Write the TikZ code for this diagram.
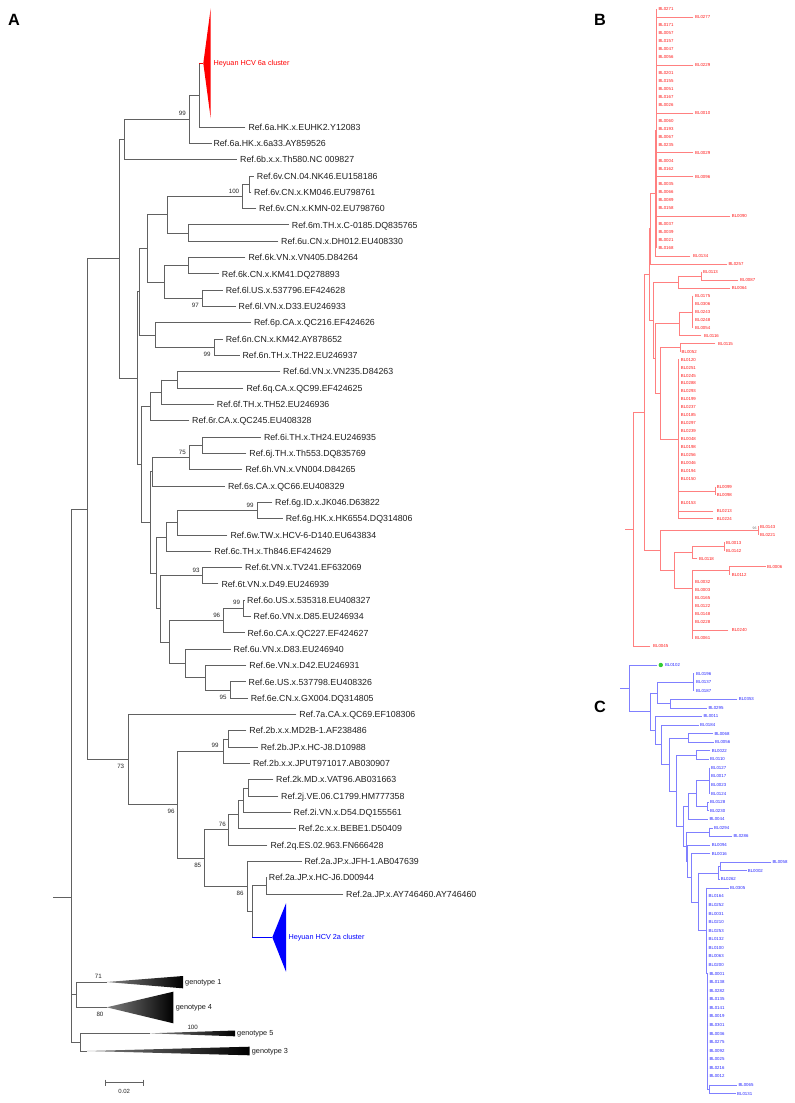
\documentclass[tikz,border=0pt]{standalone}
\usepackage{fontspec}
\setmainfont{Liberation Sans}
\newcommand\lf[8]{\draw[#1] (#3,#5) -- (#4,#5); \node[#2] (#7) at (#6,#5) {#8};}
\newcommand\nd[6]{\draw[#1] (#2,#6) -- (#3,#6) (#3,#4) -- (#3,#5);}
\begin{document}
\begin{tikzpicture}[x=1pt,y=-1pt,
 tA/.style={draw=black!62,line width=0.9pt,line cap=rect},
 tB/.style={draw=red!50,line width=0.55pt,line cap=rect},
 tC/.style={draw=blue!50,line width=0.55pt,line cap=rect},
 labA/.style={anchor=west,inner sep=0pt,font=\fontsize{8.8}{10}\selectfont,text height=6.3pt,text depth=0pt,text=black!88},
 labB/.style={anchor=west,inner sep=0pt,font=\fontsize{4.35}{5}\selectfont,text height=3.1pt,text depth=0pt,text=red!90},
 labC/.style={anchor=west,inner sep=0pt,font=\fontsize{4.35}{5}\selectfont,text height=3.1pt,text depth=0pt,text=blue!85},
 bs/.style={inner sep=0pt,font=\fontsize{6.2}{7}\selectfont,text height=4.45pt,text depth=0pt,text=black!85},
 gt/.style={anchor=west,inner sep=0pt,font=\fontsize{7.3}{8}\selectfont,text height=5.2pt,text depth=0pt,text=black!90},
 pl/.style={inner sep=0pt,font=\fontsize{16.3}{18}\selectfont\bfseries,text height=11.7pt,text depth=0pt}]
\useasboundingbox (0,0) rectangle (795,1103);
\fill[white] (0,0) rectangle (795,1103);
% ---------------- panel letters
\node[pl] (pA) at (14,19.2) {A};
\node[pl] (pB) at (600,19.2) {B};
\node[pl] (pC) at (600,707) {C};
% ---------------- panel A : internal nodes
\nd{tA}{189}{199}{63}{127}{95}
\nd{tA}{124}{189}{95}{143.3}{119.15}
\nd{tA}{119}{124}{119.15}{159.6}{139.4}
\nd{tA}{242}{249}{176}{192.3}{184.15}
\nd{tA}{167}{242}{184.15}{208.6}{196.4}
\nd{tA}{167}{188}{224.9}{241.2}{233.05}
\nd{tA}{147}{167}{196.4}{233.05}{214.7}
\nd{tA}{164}{188}{257.6}{273.9}{265.75}
\nd{tA}{164}{202}{290.2}{306.5}{298.35}
\nd{tA}{147}{164}{265.75}{298.35}{282.05}
\nd{tA}{139.5}{147}{214.7}{282.05}{248.4}
\nd{tA}{155}{214}{339.2}{355.5}{347.35}
\nd{tA}{139.5}{155}{322.8}{347.35}{335.1}
\nd{tA}{137}{139.5}{248.4}{335.1}{291.75}
\nd{tA}{161}{177}{371.8}{388.1}{379.95}
\nd{tA}{150.7}{161}{379.95}{404.4}{392.2}
\nd{tA}{141}{150.7}{392.2}{420.8}{406.5}
\nd{tA}{189}{202}{437.1}{453.4}{445.25}
\nd{tA}{152}{189}{445.25}{469.7}{457.5}
\nd{tA}{150}{152}{457.5}{486}{471.75}
\nd{tA}{177}{257.7}{502.4}{518.7}{510.55}
\nd{tA}{166.7}{177}{510.55}{535}{522.8}
\nd{tA}{156.7}{166.7}{522.8}{551.3}{537.05}
\nd{tA}{160}{202.7}{567.6}{583.9}{575.75}
\nd{tA}{223}{243}{600.3}{616.6}{608.45}
\nd{tA}{169.3}{223}{608.45}{632.9}{620.7}
\nd{tA}{205.7}{230}{681.9}{698.2}{690.05}
\nd{tA}{185}{205.7}{665.5}{690.05}{677.8}
\nd{tA}{169.3}{185}{649.2}{677.8}{663.5}
\nd{tA}{160}{169.3}{620.7}{663.5}{642.1}
\nd{tA}{156.7}{160}{575.75}{642.1}{608.9}
\nd{tA}{150}{156.7}{537.05}{608.9}{573}
\nd{tA}{141}{150}{471.75}{573}{522.4}
\nd{tA}{137}{141}{406.5}{522.4}{464.45}
\nd{tA}{119}{137}{291.75}{464.45}{378.1}
\nd{tA}{87}{119}{139.4}{378.1}{258.75}
\nd{tA}{223}{228}{730.8}{747.1}{738.95}
\nd{tA}{177.5}{223}{738.95}{763.4}{751.2}
\nd{tA}{243}{248}{779.8}{796.1}{787.95}
\nd{tA}{238.5}{243}{787.95}{812.4}{800.2}
\nd{tA}{228.7}{238.5}{800.2}{828.7}{814.45}
\nd{tA}{204}{228.7}{814.45}{845}{829.7}
\nd{tA}{252}{266}{877.7}{894}{885.85}
\nd{tA}{247}{252}{885.85}{937.3}{911.6}
\nd{tA}{204}{247}{861.4}{911.6}{886.5}
\nd{tA}{177.5}{204}{829.7}{886.5}{858.1}
\nd{tA}{128}{177.5}{751.2}{858.1}{804.65}
\nd{tA}{87}{128}{714.5}{804.65}{759.6}
\nd{tA}{71.6}{87}{258.75}{759.6}{509.2}
\nd{tA}{71.6}{76.7}{982}{1007.3}{994.65}
\nd{tA}{71}{71.6}{509.2}{994.65}{751.9}
\nd{tA}{71}{80.7}{1033.3}{1051}{1042.15}
\nd{tA}{53.3}{71}{751.9}{1042.15}{897}
% ---------------- panel A : leaves
\lf{tA}{labA}{199}{245}{127}{248.3}{a0}{Ref.6a.HK.x.EUHK2.Y12083}
\lf{tA}{labA}{189}{211.5}{143.3}{213.3}{a1}{Ref.6a.HK.x.6a33.AY859526}
\lf{tA}{labA}{124}{236.5}{159.6}{240}{a2}{Ref.6b.x.x.Th580.NC 009827}
\lf{tA}{labA}{249}{253.5}{176}{256.7}{a3}{Ref.6v.CN.04.NK46.EU158186}
\lf{tA}{labA}{249}{251}{192.3}{254}{a4}{Ref.6v.CN.x.KM046.EU798761}
\lf{tA}{labA}{242}{256}{208.6}{259}{a5}{Ref.6v.CN.x.KMN-02.EU798760}
\lf{tA}{labA}{188}{288.5}{224.9}{291.7}{a6}{Ref.6m.TH.x.C-0185.DQ835765}
\lf{tA}{labA}{188}{278}{241.2}{281}{a7}{Ref.6u.CN.x.DH012.EU408330}
\lf{tA}{labA}{188}{245}{257.6}{248.3}{a8}{Ref.6k.VN.x.VN405.D84264}
\lf{tA}{labA}{188}{218.5}{273.9}{221.7}{a9}{Ref.6k.CN.x.KM41.DQ278893}
\lf{tA}{labA}{202}{222.5}{290.2}{225.6}{a10}{Ref.6l.US.x.537796.EF424628}
\lf{tA}{labA}{202}{235.5}{306.5}{238.5}{a11}{Ref.6l.VN.x.D33.EU246933}
\lf{tA}{labA}{155}{250.5}{322.8}{253.8}{a12}{Ref.6p.CA.x.QC216.EF424626}
\lf{tA}{labA}{214}{222.5}{339.2}{225.6}{a13}{Ref.6n.CN.x.KM42.AY878652}
\lf{tA}{labA}{214}{239.5}{355.5}{242.4}{a14}{Ref.6n.TH.x.TH22.EU246937}
\lf{tA}{labA}{177}{280}{371.8}{283}{a15}{Ref.6d.VN.x.VN235.D84263}
\lf{tA}{labA}{177}{243}{388.1}{246.3}{a16}{Ref.6q.CA.x.QC99.EF424625}
\lf{tA}{labA}{161}{213.5}{404.4}{216.7}{a17}{Ref.6f.TH.x.TH52.EU246936}
\lf{tA}{labA}{150.7}{189}{420.8}{192}{a18}{Ref.6r.CA.x.QC245.EU408328}
\lf{tA}{labA}{202}{260.5}{437.1}{263.8}{a19}{Ref.6i.TH.x.TH24.EU246935}
\lf{tA}{labA}{202}{246}{453.4}{249.2}{a20}{Ref.6j.TH.x.Th553.DQ835769}
\lf{tA}{labA}{189}{242}{469.7}{245.3}{a21}{Ref.6h.VN.x.VN004.D84265}
\lf{tA}{labA}{152}{224.5}{486}{227.8}{a22}{Ref.6s.CA.x.QC66.EU408329}
\lf{tA}{labA}{257.7}{272}{502.4}{275}{a23}{Ref.6g.ID.x.JK046.D63822}
\lf{tA}{labA}{257.7}{282.5}{518.7}{285.6}{a24}{Ref.6g.HK.x.HK6554.DQ314806}
\lf{tA}{labA}{177}{227}{535}{230.3}{a25}{Ref.6w.TW.x.HCV-6-D140.EU643834}
\lf{tA}{labA}{166.7}{211}{551.3}{214.2}{a26}{Ref.6c.TH.x.Th846.EF424629}
\lf{tA}{labA}{202.7}{242}{567.6}{245}{a27}{Ref.6t.VN.x.TV241.EF632069}
\lf{tA}{labA}{202.7}{218}{583.9}{221.3}{a28}{Ref.6t.VN.x.D49.EU246939}
\lf{tA}{labA}{243}{244.5}{600.3}{247}{a29}{Ref.6o.US.x.535318.EU408327}
\lf{tA}{labA}{243}{250.5}{616.6}{253.5}{a30}{Ref.6o.VN.x.D85.EU246934}
\lf{tA}{labA}{223}{244.5}{632.9}{247.4}{a31}{Ref.6o.CA.x.QC227.EF424627}
\lf{tA}{labA}{185}{230.5}{649.2}{233.5}{a32}{Ref.6u.VN.x.D83.EU246940}
\lf{tA}{labA}{205.7}{246}{665.5}{249.2}{a33}{Ref.6e.VN.x.D42.EU246931}
\lf{tA}{labA}{230}{245.5}{681.9}{248.5}{a34}{Ref.6e.US.x.537798.EU408326}
\lf{tA}{labA}{230}{247.5}{698.2}{250.6}{a35}{Ref.6e.CN.x.GX004.DQ314805}
\lf{tA}{labA}{128}{296}{714.5}{299.2}{a36}{Ref.7a.CA.x.QC69.EF108306}
\lf{tA}{labA}{228}{246}{730.8}{249.2}{a37}{Ref.2b.x.x.MD2B-1.AF238486}
\lf{tA}{labA}{228}{257.5}{747.1}{260.6}{a38}{Ref.2b.JP.x.HC-J8.D10988}
\lf{tA}{labA}{223}{249.5}{763.4}{252.8}{a39}{Ref.2b.x.x.JPUT971017.AB030907}
\lf{tA}{labA}{248}{273}{779.8}{276}{a40}{Ref.2k.MD.x.VAT96.AB031663}
\lf{tA}{labA}{248}{278}{796.1}{281}{a41}{Ref.2j.VE.06.C1799.HM777358}
\lf{tA}{labA}{243}{290.5}{812.4}{293.5}{a42}{Ref.2i.VN.x.D54.DQ155561}
\lf{tA}{labA}{238.5}{295.5}{828.7}{298.5}{a43}{Ref.2c.x.x.BEBE1.D50409}
\lf{tA}{labA}{228.7}{267}{845}{270.3}{a44}{Ref.2q.ES.02.963.FN666428}
\lf{tA}{labA}{247}{301.5}{861.4}{304.3}{a45}{Ref.2a.JP.x.JFH-1.AB047639}
\lf{tA}{labA}{266}{267}{877.7}{268.7}{a46}{Ref.2a.JP.x.HC-J6.D00944}
\lf{tA}{labA}{266}{343}{894}{346}{a47}{Ref.2a.JP.x.AY746460.AY746460}
% ---------------- collapsed clusters
\draw[red,line width=0.9pt] (199,63) -- (203.3,63);
\fill[red] (210.7,8.3) -- (203.3,63.3) -- (210.7,118.3) -- cycle;
\node[anchor=west,inner sep=0pt,font=\fontsize{7.27}{8}\selectfont,text height=5.2pt,text depth=0pt,text=red] (h6a) at (213.3,63.3) {Heyuan HCV 6a cluster};
\draw[blue,line width=0.9pt] (252,937.3) -- (272.3,937.3);
\fill[blue] (286,903.3) -- (272.3,937.3) -- (286,971.7) -- cycle;
\node[anchor=west,inner sep=0pt,font=\fontsize{7.27}{8}\selectfont,text height=5.2pt,text depth=0pt,text=blue] (h2a) at (288.3,937.3) {Heyuan HCV 2a cluster};
\draw[tA] (76.7,982) -- (106.7,982);
\shade[left color=black!50,right color=black] (106.7,982) -- (183,976) -- (183,988.3) -- cycle;
\node[gt] (g1) at (185,982) {genotype 1};
\draw[tA] (76.7,1007.3) -- (106.7,1007.3);
\shade[left color=black!50,right color=black] (106.7,1007.3) -- (173.3,991.7) -- (173.3,1023.3) -- cycle;
\node[gt] (g4) at (175.7,1007.3) {genotype 4};
\draw[tA] (80.7,1033.3) -- (150,1033.3);
\shade[left color=black!50,right color=black] (150,1033.3) -- (235,1030.5) -- (235,1036.3) -- cycle;
\node[gt] (g5) at (237,1033.3) {genotype 5};
\draw[tA] (80.7,1051) -- (86.7,1051);
\shade[left color=black!50,right color=black] (86.7,1051) -- (249.7,1046.7) -- (249.7,1055.3) -- cycle;
\node[gt] (g3) at (251.7,1051) {genotype 3};
% ---------------- bootstrap values
\node[bs] (b1) at (182.3,113.3) {99};
\node[bs] (b2) at (234,191) {100};
\node[bs] (b3) at (195.3,305) {97};
\node[bs] (b4) at (207,354.3) {99};
\node[bs] (b5) at (182.4,452) {75};
\node[bs] (b6) at (250,505) {99};
\node[bs] (b7) at (196,570) {93};
\node[bs] (b8) at (236.5,602.7) {99};
\node[bs] (b9) at (216.7,615) {96};
\node[bs] (b10) at (223,697) {95};
\node[bs] (b11) at (120.7,766.7) {73};
\node[bs] (b12) at (215,745) {99};
\node[bs] (b13) at (171,811.7) {96};
\node[bs] (b14) at (222.4,824) {76};
\node[bs] (b15) at (197.7,865) {85};
\node[bs] (b16) at (240,893.3) {86};
\node[bs] (b17) at (98.3,976) {71};
\node[bs] (b18) at (100,1014.3) {80};
\node[bs] (b19) at (192.7,1027.7) {100};
% ---------------- scale bar
\draw[tA,line cap=butt] (105,1082.7) -- (143.3,1082.7) (105,1079.7) -- (105,1085.7) (143.3,1079.7) -- (143.3,1085.7);
\node[inner sep=0pt,font=\fontsize{6}{7}\selectfont,text height=4.3pt,text depth=0pt,text=black!85] (sb) at (124.2,1091) {0.02};
% ---------------- panel B (red)
\nd{tB}{655}{656}{9.3}{248.1}{130}
\nd{tB}{650.5}{655}{130}{256.06}{193}
\nd{tB}{649.3}{650.5}{193}{264.02}{228.5}
\nd{tB}{644.3}{649.3}{228.5}{320.3}{274.4}
\nd{tB}{649.3}{653.3}{282}{358.6}{320.3}
\nd{tB}{653.3}{678.3}{275.96}{287.9}{282}
\nd{tB}{678.3}{701}{271.98}{279.94}{275.96}
\nd{tB}{653.3}{655.7}{323.75}{393.4}{358.6}
\nd{tB}{655.7}{679}{311.8}{335.66}{323.75}
\nd{tB}{679}{692.3}{295.86}{327.7}{311.8}
\nd{tB}{655.7}{660}{347.6}{439.1}{393.4}
\nd{tB}{660}{680}{343.62}{351.58}{347.6}
\nd{tB}{660}{678.3}{359.54}{518.74}{439.1}
\nd{tB}{678.3}{715}{486.9}{494.86}{490.9}
\nd{tB}{633}{644.3}{274.4}{550.5}{412.5}
\nd{tB}{644.3}{660}{530.7}{570.3}{550.5}
\nd{tB}{660}{758}{526.7}{534.66}{530.7}
\nd{tB}{660}{674}{552.6}{588}{570.3}
\nd{tB}{674}{692.7}{546.6}{558.54}{552.6}
\nd{tB}{692.7}{724}{542.62}{550.58}{546.6}
\nd{tB}{674}{692.3}{570.5}{638.14}{588}
\nd{tB}{692.3}{729}{566.5}{574.46}{570.5}
\nd{tB}{625}{633}{412.5}{646.1}{529.3}
\foreach \i/\t/\a/\b/\c in {
 0/BL0271/656/656/658.3, 1/BL0277/656/693/695, 2/BL0171/656/656/658.3, 3/BL0057/656/656/658.3,
 4/BL0157/656/656/658.3, 5/BL0047/656/656/658.3, 6/BL0056/656/656/658.3, 7/BL0229/656/693/695,
 8/BL0201/656/656/658.3, 9/BL0155/656/656/658.3, 10/BL0051/656/656/658.3, 11/BL0167/656/656/658.3,
 12/BL0026/656/656/658.3, 13/BL0010/656/693/695, 14/BL0060/656/656/658.3, 15/BL0193/656/656/658.3,
 16/BL0067/656/656/658.3, 17/BL0235/656/656/658.3, 18/BL0029/656/693/695, 19/BL0004/656/656/658.3,
 20/BL0162/656/656/658.3, 21/BL0096/656/693/695, 22/BL0035/656/656/658.3, 23/BL0066/656/656/658.3,
 24/BL0089/656/656/658.3, 25/BL0158/656/656/658.3, 26/BL0090/656/730/731.7, 27/BL0037/656/656/658.3,
 28/BL0039/656/656/658.3, 29/BL0021/656/656/658.3, 30/BL0168/656/656/658.3, 31/BL0134/655/690/693,
 32/BL0257/650.5/727/728.3, 33/BL0113/701/702/703, 34/BL0087/701/738/740, 35/BL0064/678.3/730/731.7,
 36/BL0175/692.3/693/695, 37/BL0306/692.3/693/695, 38/BL0243/692.3/693/695, 39/BL0248/692.3/693/695,
 40/BL0054/692.3/693/695, 41/BL0116/679/701/704, 42/BL0115/680/715/718, 43/BL0052/680/680.5/681.5,
 44/BL0120/678.3/678.3/680.7, 45/BL0251/678.3/678.3/680.7, 46/BL0245/678.3/678.3/680.7,
 47/BL0288/678.3/678.3/680.7, 48/BL0293/678.3/678.3/680.7, 49/BL0199/678.3/678.3/680.7,
 50/BL0237/678.3/678.3/680.7, 51/BL0185/678.3/678.3/680.7, 52/BL0297/678.3/678.3/680.7,
 53/BL0239/678.3/678.3/680.7, 54/BL0048/678.3/678.3/680.7, 55/BL0198/678.3/678.3/680.7,
 56/BL0256/678.3/678.3/680.7, 57/BL0046/678.3/678.3/680.7, 58/BL0194/678.3/678.3/680.7,
 59/BL0150/678.3/678.3/680.7, 60/BL0099/715/715/716.7, 61/BL0098/715/715/716.7,
 62/BL0153/678.3/678.3/680.7, 63/BL0213/678.3/713/716.7, 64/BL0224/678.3/713/716.7,
 65/BL0143/758/758/760, 66/BL0221/758/758/760, 67/BL0013/724/724/726, 68/BL0142/724/724/726,
 69/BL0118/692.7/697/699, 70/BL0006/729/765.7/767, 71/BL0112/729/729/731.7,
 72/BL0032/692.3/693/695, 73/BL0003/692.3/693/695, 74/BL0165/692.3/693/695, 75/BL0122/692.3/693/695,
 76/BL0148/692.3/693/695, 77/BL0228/692.3/693/695, 78/BL0240/692.3/728/731.7, 79/BL0061/692.3/693/695,
 80/BL0045/633/650/653}
 {\draw[tB] (\a,{9.3+7.96*\i}) -- (\b,{9.3+7.96*\i});
  \node[labB] (r\i) at (\c,{9.3+7.96*\i}) {\t};}
\node[inner sep=0pt,font=\fontsize{3.5}{4}\selectfont,text=black!55] (rb) at (754.5,527.8) {96};
% ---------------- panel C (blue)
\nd{tC}{620}{629}{665}{711.7}{688.3}
\nd{tC}{629}{650.7}{692.9}{730.5}{711.7}
\nd{tC}{650.7}{657.7}{682.1}{703.6}{692.9}
\nd{tC}{657.7}{693.3}{673.6}{690.7}{682.1}
\nd{tC}{657.7}{670}{699.3}{707.9}{703.6}
\nd{tC}{650.7}{655}{716.4}{744.7}{730.5}
\nd{tC}{655}{661.7}{725}{764.3}{744.7}
\nd{tC}{661.7}{669.3}{737.9}{790.8}{764.3}
\nd{tC}{669.3}{688.3}{733.6}{742.1}{737.9}
\nd{tC}{669.3}{676.7}{755}{826.6}{790.8}
\nd{tC}{676.7}{696.7}{750.7}{759.3}{755}
\nd{tC}{676.7}{683.3}{806.4}{846.7}{826.6}
\nd{tC}{683.3}{688.3}{793.6}{819.3}{806.4}
\nd{tC}{688.3}{696}{780.7}{806.4}{793.6}
\nd{tC}{696}{709.3}{767.8}{793.6}{780.7}
\nd{tC}{696}{707.7}{802.1}{810.7}{806.4}
\nd{tC}{683.3}{686.7}{832.1}{861.3}{846.7}
\nd{tC}{686.7}{709.3}{827.8}{836.4}{832.1}
\nd{tC}{686.7}{687.7}{845}{877.7}{861.3}
\nd{tC}{687.7}{691.7}{853.5}{901.8}{877.7}
\nd{tC}{691.7}{698.3}{872.9}{930.7}{901.8}
\nd{tC}{698.3}{718.3}{866.4}{879.3}{872.9}
\nd{tC}{718.3}{720}{862.1}{870.7}{866.4}
\nd{tC}{698.3}{706.7}{887.8}{973.5}{930.7}
\nd{tC}{706.7}{707.5}{973.5}{1089.2}{973.5}
\nd{tC}{707.5}{709.3}{1084.9}{1093.5}{1089.2}
\foreach \i/\t/\a/\b/\c in {
 0/BL0102/629/657/664.8, 1/BL0196/693.3/694/696, 2/BL0137/693.3/694/696, 3/BL0187/693.3/694/696,
 4/BL0353/670/737/738.7, 5/BL0295/670/706.7/708.3, 6/BL0011/655/701.7/703.3, 7/BL0184/661.7/698.5/700,
 8/BL0068/688.3/713/714.3, 9/BL0056/688.3/713.5/715, 10/BL0022/696.7/710/711.7, 11/BL0110/696.7/708.5/710,
 12/BL0127/709.3/709.5/711, 13/BL0017/709.3/709.5/711, 14/BL0023/709.3/709.5/711, 15/BL0124/709.3/709.5/711,
 16/BL0128/707.7/708.5/710, 17/BL0230/707.7/708.5/710, 18/BL0044/688.3/707.7/709.3,
 19/BL0294/709.3/712.5/714, 20/BL0286/709.3/732/733.3, 21/BL0094/687.7/710/711.7, 22/BL0016/691.7/710/711.7,
 23/BL0058/720/771/772.3, 24/BL0002/720/746.3/747.7, 25/BL0262/718.3/719.3/720.7, 26/BL0305/706.7/728.7/730,
 27/BL0164/706.7/707/708.5, 28/BL0252/706.7/707/708.5, 29/BL0031/706.7/707/708.5, 30/BL0210/706.7/707/708.5,
 31/BL0253/706.7/707/708.5, 32/BL0132/706.7/707/708.5, 33/BL0100/706.7/707/708.5, 34/BL0063/706.7/707/708.5,
 35/BL0200/706.7/707/708.5, 36/BL0001/707.5/708/709.3, 37/BL0138/707.5/708/709.3, 38/BL0282/707.5/708/709.3,
 39/BL0135/707.5/708/709.3, 40/BL0141/707.5/708/709.3, 41/BL0019/707.5/708/709.3, 42/BL0301/707.5/708/709.3,
 43/BL0036/707.5/708/709.3, 44/BL0275/707.5/708/709.3, 45/BL0092/707.5/708/709.3, 46/BL0025/707.5/708/709.3,
 47/BL0216/707.5/708/709.3, 48/BL0012/707.5/708/709.3, 49/BL0065/709.3/736.7/738.3, 50/BL0131/709.3/735.5/737}
 {\draw[tC] (\a,{665+8.57*\i}) -- (\b,{665+8.57*\i});
  \node[labC] (c\i) at (\c,{665+8.57*\i}) {\t};}
\fill[green!75!black!80!white] (660.8,665) circle (2.2);
\end{tikzpicture}
\end{document}
